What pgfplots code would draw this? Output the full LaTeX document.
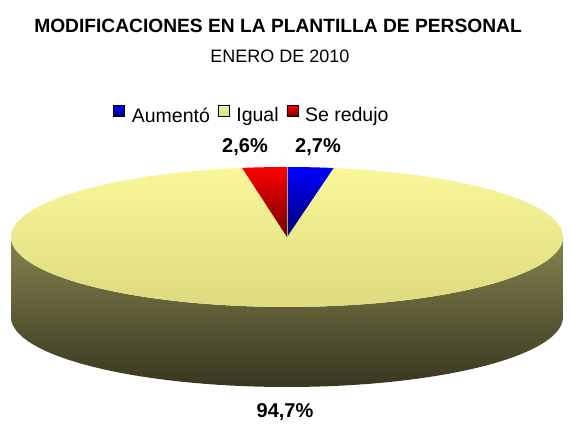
\documentclass[border=0pt]{standalone}
\usepackage{pgfplots}
\usepackage{pgfplotstable}
\pgfplotsset{compat=1.18}
\usepackage{fontspec}
\setmainfont{Liberation Sans}
\definecolor{yelTop}{HTML}{F9F799}
\definecolor{yelBot}{HTML}{DEDA7E}
\definecolor{sideTop}{HTML}{84844F}
\definecolor{sideBot}{HTML}{38361F}
\definecolor{bluTop}{HTML}{0000FF}
\definecolor{bluBot}{HTML}{000070}
\definecolor{redTop}{HTML}{FF0000}
\definecolor{redBot}{HTML}{700000}
\pgfplotstableread{
label value
Aumento 2.7
Igual 94.7
Reducido 2.6
}\pietable
\pgfplotstablegetelem{0}{value}\of\pietable \let\vA\pgfplotsretval
\pgfplotstablegetelem{1}{value}\of\pietable \let\vB\pgfplotsretval
\pgfplotstablegetelem{2}{value}\of\pietable \let\vC\pgfplotsretval
\pgfmathsetmacro\aA{90-3.6*\vA}
\pgfmathsetmacro\aB{\aA-3.6*\vB}
\pgfmathsetmacro\aC{\aB-3.6*\vC}
\pgfkeys{/pgf/number format/.cd, assume math mode=true}
\begin{document}
\begin{tikzpicture}
\begin{axis}[
  width=571bp, height=421bp, scale only axis,
  xmin=0, xmax=571, ymin=0, ymax=421,
  hide axis, clip=false,
  legend columns=3,
  legend image code/.code={\fill[#1] (0bp,-1bp) rectangle (11bp,10bp);},
  legend style={at={(251.5/571,305.5/421)}, anchor=center, draw=none, fill=none,
    font=\fontsize{19.5bp}{22bp}\selectfont, inner sep=0pt,
    /tikz/every odd column/.append style={column sep=6bp},
    /tikz/every even column/.append style={column sep=7bp},
    nodes={inner xsep=1bp}},
]
\addplot[draw=none, forget plot] coordinates {(0,0) (571,421)};
% side (front half)
\addplot[draw=none, top color=sideTop, bottom color=sideBot, domain=180:540, samples=181, forget plot]
  ({287+276*cos(x)},{ifthenelse(x<=360, 184+70*sin(x), 104-70*sin(x))}) -- cycle;
% top face
\addplot[draw=none, top color=yelTop, bottom color=yelBot, domain=0:360, samples=181, forget plot]
  ({287+276*cos(x)},{184+70*sin(x)}) -- cycle;
% Aumento
\addplot[draw=none, top color=bluTop, bottom color=bluBot, domain=\aA:90, samples=15, forget plot]
  ({287+276*cos(x)},{184+70*sin(x)}) -- (axis cs:287,184) -- cycle;
% Se redujo
\addplot[draw=none, top color=redTop, bottom color=redBot, domain=\aC:\aB, samples=15, forget plot]
  ({287+276*cos(x)},{184+70*sin(x)}) -- (axis cs:287,184) -- cycle;
\addplot[draw=gray!70, line width=0.6bp, forget plot] coordinates {(287,184) (287,254)};
\addlegendimage{top color=bluTop, bottom color=bluBot}
\addlegendentry{Aumentó}
\addlegendimage{top color=yelTop, bottom color=yelBot}
\addlegendentry{Igual}
\addlegendimage{top color=redTop, bottom color=redBot}
\addlegendentry{Se redujo}
% titles
\node[anchor=base, font=\fontsize{19.2bp}{22bp}\selectfont\bfseries] at (axis cs:278,388) {MODIFICACIONES EN LA PLANTILLA DE PERSONAL};
\node[anchor=base, font=\fontsize{18bp}{22bp}\selectfont] at (axis cs:280,358) {ENERO DE 2010};
% data labels
\node[anchor=base, font=\fontsize{20bp}{22bp}\selectfont\bfseries] at (axis cs:245,268) {\pgfmathprintnumber[fixed, fixed zerofill, precision=1, use comma]{\vC}\%};
\node[anchor=base, font=\fontsize{20bp}{22bp}\selectfont\bfseries] at (axis cs:318,268) {\pgfmathprintnumber[fixed, fixed zerofill, precision=1, use comma]{\vA}\%};
\node[anchor=base, font=\fontsize{20bp}{22bp}\selectfont\bfseries] at (axis cs:285,4) {\pgfmathprintnumber[fixed, fixed zerofill, precision=1, use comma]{\vB}\%};
\end{axis}
\end{tikzpicture}
\end{document}
